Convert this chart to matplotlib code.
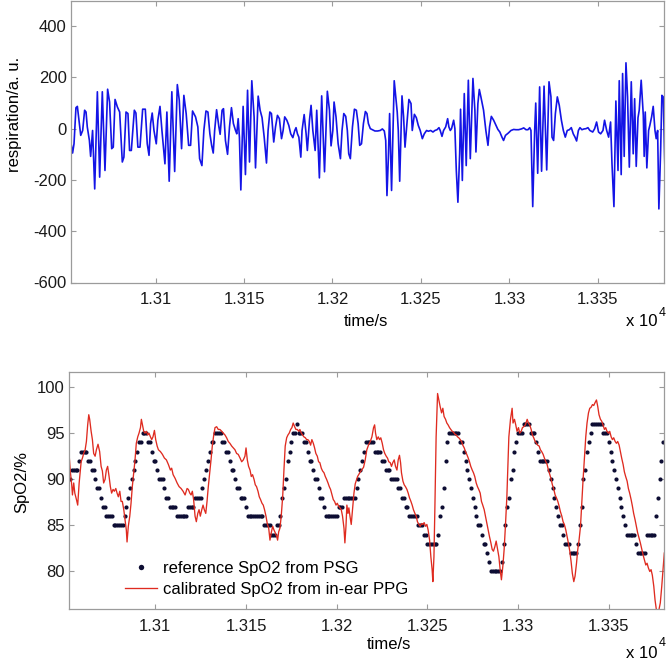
import matplotlib

matplotlib.use("Agg")
import matplotlib.pyplot as plt
import numpy as np
from matplotlib.ticker import FuncFormatter

plt.rcParams["font.family"] = ["Liberation Sans", "DejaVu Sans"]
plt.rcParams["font.size"] = 12
plt.rcParams["axes.unicode_minus"] = False

# respiration signal (time/s, a.u.)
resp_points = [
    (13052.4, -65), (13053.1, -95), (13053.9, -59), (13055.0, 82), (13055.8, 87), (13056.7, 33),
    (13057.7, -26), (13058.8, -7), (13059.9, 72), (13060.7, 65), (13061.4, 7), (13062.6, -46),
    (13063.3, -108), (13064.4, -7), (13065.6, -235), (13067.1, 144), (13068.4, -189), (13069.9, 144),
    (13071.4, -163), (13072.9, 154), (13074.0, 104), (13075.2, -78), (13076.1, -72), (13077.1, 114),
    (13078.4, 85), (13079.7, 65), (13081.2, -130), (13082.1, -111), (13083.3, 65), (13084.4, 59),
    (13085.3, -85), (13086.3, -85), (13088.0, 72), (13088.9, 61), (13090.0, -72), (13091.2, -72),
    (13092.7, 76), (13094.2, 76), (13095.3, -59), (13096.3, -104), (13097.2, 20), (13098.1, 61),
    (13099.1, -7), (13100.4, -59), (13101.3, 33), (13102.5, 87), (13103.6, -7), (13105.3, -137),
    (13106.4, 65), (13107.7, -205), (13109.2, 144), (13110.8, -167), (13112.3, 172), (13113.4, 111),
    (13114.7, -78), (13116.0, 130), (13117.3, 59), (13118.7, -65), (13119.8, -65), (13120.9, 69),
    (13122.6, 46), (13123.9, 7), (13124.9, -117), (13126.2, -144), (13127.3, -7), (13128.5, 69),
    (13129.6, 65), (13130.7, -20), (13131.7, -65), (13132.6, -95), (13133.4, -7), (13134.5, 74),
    (13135.8, 7), (13136.5, -22), (13137.6, 72), (13138.4, 78), (13139.5, -46), (13140.7, -100),
    (13141.8, 7), (13142.9, 82), (13144.0, 20), (13145.2, -7), (13145.9, -20), (13146.7, 39),
    (13147.4, -33), (13148.2, -239), (13149.5, 87), (13150.8, -179), (13152.0, 150), (13153.1, -130),
    (13154.4, 187), (13155.7, 46), (13156.5, -153), (13158.0, 127), (13159.1, 72), (13160.2, 43),
    (13161.4, -33), (13162.7, -134), (13163.6, -7), (13164.6, 65), (13165.5, 59), (13166.8, -52),
    (13167.8, 7), (13168.9, 52), (13170.0, 39), (13171.2, -39), (13172.1, -7), (13173.0, 46),
    (13174.2, 33), (13175.3, 13), (13176.4, -20), (13177.6, -35), (13178.7, -7), (13179.4, 4),
    (13180.2, -20), (13181.0, -33), (13182.1, -111), (13182.8, -7), (13184.0, 55), (13185.1, -20),
    (13185.8, -85), (13187.0, 33), (13187.9, 91), (13188.9, -7), (13190.2, -85), (13191.1, 72),
    (13192.6, -192), (13193.9, 128), (13195.5, -168), (13197.1, 146), (13198.3, 72), (13199.2, -67),
    (13200.2, -7), (13200.9, 104), (13202.0, 46), (13203.2, -59), (13204.5, -117), (13205.4, -7),
    (13206.4, 59), (13207.5, 48), (13208.4, -7), (13209.2, -98), (13210.1, -117), (13211.3, 7),
    (13212.4, 76), (13213.5, 72), (13214.5, 20), (13215.4, -65), (13216.4, -59), (13217.5, 20),
    (13218.6, 67), (13219.5, 59), (13220.3, 20), (13221.4, 0), (13222.5, -4), (13224.0, -9),
    (13225.5, -9), (13227.0, -7), (13228.2, -1), (13229.3, -9), (13230.1, -46), (13230.8, -261),
    (13231.6, -111), (13232.3, 59), (13233.4, -241), (13234.9, 187), (13236.1, 98), (13236.6, 65),
    (13237.2, -7), (13238.0, -205), (13239.3, 128), (13240.2, 46), (13241.0, -72), (13242.1, 20),
    (13243.2, 114), (13244.4, 98), (13245.1, -7), (13246.3, 56), (13247.4, 43), (13248.5, 13),
    (13249.6, -7), (13250.8, -39), (13251.9, -20), (13253.2, -7), (13254.2, -10), (13255.5, -7),
    (13256.8, -13), (13257.9, -7), (13259.1, -4), (13260.2, 4), (13260.9, -7), (13261.9, -30),
    (13262.8, -7), (13264.0, 7), (13265.1, 39), (13265.8, 7), (13266.6, -7), (13267.3, 0),
    (13268.5, 33), (13269.2, 0), (13270.0, -163), (13270.9, -287), (13271.9, -98), (13272.4, 76),
    (13273.4, -202), (13274.5, 137), (13275.6, -144), (13276.8, 189), (13277.9, -117), (13279.4, 196),
    (13280.5, 72), (13281.1, -91), (13282.2, 98), (13283.0, 153), (13283.9, 124), (13285.4, 72),
    (13286.7, -7), (13287.9, -65), (13288.8, 7), (13289.8, 48), (13291.1, 33), (13292.4, 13),
    (13293.5, -3), (13294.6, -13), (13295.8, -33), (13296.7, -46), (13297.8, -26), (13299.4, -17),
    (13300.9, -7), (13302.4, -3), (13303.7, -4), (13305.2, -4), (13306.8, -1), (13308.1, 3),
    (13309.4, -4), (13310.5, -4), (13311.5, 4), (13312.2, -7), (13313.2, -304), (13314.3, -7),
    (13314.9, 100), (13316.0, -174), (13317.1, 163), (13318.2, -166), (13319.6, 166), (13321.1, -161),
    (13322.4, 183), (13323.5, 124), (13324.1, -33), (13325.0, -46), (13326.0, 59), (13327.1, 124),
    (13328.2, 91), (13329.4, 33), (13330.5, -7), (13331.6, -33), (13332.7, -7), (13333.9, -4),
    (13335.0, 4), (13336.1, -20), (13337.1, -33), (13338.0, -48), (13339.0, -7), (13339.9, 4),
    (13341.0, -4), (13342.2, -1), (13343.3, 0), (13344.4, 4), (13345.5, -7), (13347.1, -13),
    (13348.2, 0), (13349.3, 26), (13350.4, -13), (13351.6, -20), (13352.9, -7), (13353.8, 33),
    (13355.0, -7), (13356.1, -33), (13357.2, 26), (13358.0, -137), (13359.1, -304), (13360.2, 108),
    (13361.4, -163), (13362.1, 187), (13363.2, -179), (13364.0, 215), (13364.9, -108), (13365.9, 257),
    (13366.8, 124), (13367.8, -150), (13368.9, 183), (13370.0, -98), (13370.8, 117), (13371.7, -147),
    (13372.7, 43), (13373.4, 72), (13374.5, 189), (13375.7, 52), (13376.2, -108), (13376.8, 65),
    (13377.7, -153), (13378.7, -7), (13379.4, 13), (13380.4, 46), (13381.3, 87), (13382.3, -7),
    (13383.0, -39), (13383.8, -7), (13384.5, -313), (13385.5, -85), (13386.2, 130), (13387.0, 124),
    (13387.7, -98), (13388.1, -202),
]

# calibrated SpO2 from in-ear PPG (time/s, %)
ppg_points = [
    (13052.4, 92.8), (13053.2, 90.7), (13053.9, 89.4), (13054.3, 88.3), (13055.0, 89.6), (13055.6, 88.5),
    (13056.5, 87.8), (13057.2, 87.2), (13058.0, 89.6), (13059.1, 91.9), (13059.8, 92.3), (13060.5, 92.8),
    (13061.3, 93.2), (13062.0, 94.1), (13062.7, 95.9), (13063.3, 97.0), (13063.8, 96.5), (13064.6, 95.2),
    (13065.3, 94.3), (13066.0, 92.8), (13066.8, 92.5), (13067.5, 93.2), (13068.4, 93.8), (13069.3, 93.0),
    (13070.1, 91.4), (13070.8, 90.9), (13071.5, 89.6), (13072.3, 90.0), (13073.0, 91.0), (13073.7, 91.4),
    (13074.5, 90.3), (13075.2, 89.2), (13075.9, 88.5), (13076.7, 88.9), (13077.4, 88.7), (13078.2, 89.0),
    (13078.9, 88.5), (13079.6, 88.1), (13080.4, 88.7), (13081.1, 87.6), (13081.8, 87.6), (13082.6, 86.7),
    (13083.3, 85.6), (13084.0, 84.5), (13084.4, 83.2), (13085.1, 84.9), (13085.9, 86.0), (13086.6, 87.4),
    (13087.3, 89.2), (13088.1, 90.7), (13088.8, 92.1), (13089.5, 93.9), (13090.3, 94.6), (13091.0, 95.0),
    (13091.8, 95.6), (13092.3, 96.5), (13092.9, 95.9), (13093.6, 95.2), (13094.3, 95.0), (13095.1, 95.2),
    (13095.8, 94.8), (13096.5, 95.0), (13097.3, 94.6), (13098.0, 94.3), (13098.7, 94.6), (13099.5, 95.3),
    (13100.2, 94.3), (13101.0, 93.6), (13101.7, 93.2), (13102.8, 93.0), (13103.9, 92.7), (13105.0, 92.3),
    (13106.1, 92.1), (13107.2, 91.6), (13108.3, 91.0), (13109.0, 91.2), (13109.8, 90.5), (13110.9, 90.1),
    (13112.0, 89.6), (13113.1, 89.2), (13114.2, 89.0), (13115.3, 88.7), (13116.4, 88.3), (13117.5, 89.0),
    (13118.2, 88.9), (13119.0, 88.5), (13119.7, 88.3), (13120.4, 88.7), (13121.1, 87.8), (13121.9, 86.0),
    (13122.6, 85.4), (13123.4, 86.3), (13124.1, 86.7), (13124.8, 86.0), (13125.6, 86.7), (13126.3, 87.2),
    (13127.0, 86.7), (13127.8, 86.3), (13128.5, 87.6), (13129.2, 89.2), (13130.0, 90.7), (13130.7, 92.1),
    (13131.4, 93.6), (13132.2, 94.8), (13132.9, 95.6), (13133.8, 95.7), (13134.7, 95.4), (13135.6, 95.4),
    (13136.6, 95.2), (13137.5, 95.0), (13138.4, 94.8), (13139.3, 94.5), (13140.2, 94.1), (13141.1, 93.9),
    (13142.1, 93.6), (13143.0, 93.4), (13143.9, 93.2), (13144.8, 92.8), (13145.7, 92.7), (13146.7, 92.3),
    (13147.6, 91.9), (13148.5, 92.1), (13149.4, 92.5), (13150.0, 93.4), (13150.7, 92.1), (13151.4, 91.4),
    (13152.2, 91.0), (13152.9, 90.3), (13153.6, 90.5), (13154.4, 90.0), (13155.1, 89.4), (13155.8, 89.2),
    (13156.6, 88.7), (13157.3, 88.1), (13158.0, 87.8), (13158.8, 87.4), (13159.5, 87.2), (13160.2, 86.7),
    (13161.0, 86.0), (13161.7, 85.2), (13162.5, 84.7), (13163.2, 83.4), (13163.9, 84.2), (13164.7, 84.9),
    (13165.4, 84.5), (13166.1, 84.2), (13166.9, 83.8), (13167.4, 83.4), (13168.0, 84.3), (13168.7, 84.7),
    (13169.4, 86.0), (13170.2, 88.1), (13170.9, 91.0), (13171.6, 93.6), (13172.4, 94.5), (13173.1, 94.8),
    (13173.8, 95.0), (13174.6, 95.4), (13175.3, 95.6), (13176.0, 96.1), (13176.8, 95.7), (13177.5, 95.4),
    (13178.3, 95.4), (13179.0, 95.2), (13179.7, 95.4), (13180.5, 95.0), (13181.2, 94.8), (13181.9, 94.6),
    (13182.7, 94.5), (13183.4, 94.3), (13184.1, 94.3), (13184.9, 94.1), (13185.6, 93.7), (13186.3, 94.3),
    (13187.1, 93.9), (13187.8, 93.4), (13188.5, 92.8), (13189.3, 92.5), (13190.0, 91.9), (13190.7, 91.8),
    (13191.5, 91.2), (13192.2, 90.9), (13193.0, 90.7), (13193.7, 90.3), (13194.4, 90.0), (13195.2, 89.6),
    (13195.9, 89.2), (13196.6, 88.9), (13197.4, 88.3), (13198.1, 87.8), (13198.8, 87.6), (13199.6, 87.2),
    (13200.3, 87.4), (13201.0, 87.1), (13201.8, 86.9), (13202.5, 86.7), (13203.2, 86.0), (13204.0, 84.7),
    (13204.5, 83.1), (13205.1, 84.9), (13205.6, 87.2), (13206.2, 86.3), (13206.7, 86.9), (13207.3, 86.0),
    (13208.0, 85.1), (13208.7, 86.7), (13209.5, 88.5), (13210.2, 89.5), (13211.5, 90.3), (13213.0, 90.8),
    (13214.8, 91.3), (13215.7, 92.1), (13216.6, 93.2), (13217.5, 93.7), (13218.5, 94.1), (13219.4, 94.6),
    (13220.3, 95.6), (13220.9, 95.9), (13221.4, 95.0), (13222.1, 94.3), (13222.9, 94.6), (13223.6, 94.3),
    (13224.3, 94.5), (13225.1, 93.9), (13225.8, 93.2), (13226.5, 92.8), (13227.3, 92.5), (13228.0, 92.3),
    (13228.7, 91.9), (13229.5, 91.8), (13230.2, 91.4), (13230.9, 91.8), (13231.7, 92.1), (13232.4, 91.4),
    (13233.2, 91.0), (13233.9, 92.1), (13234.6, 92.6), (13235.2, 91.8), (13235.7, 90.7), (13236.5, 89.8),
    (13237.2, 89.4), (13237.9, 89.2), (13238.7, 88.9), (13239.4, 88.5), (13240.1, 88.0), (13240.9, 87.6),
    (13241.6, 87.2), (13242.3, 86.7), (13243.1, 86.3), (13243.8, 86.0), (13244.5, 85.4), (13245.3, 85.1),
    (13246.0, 84.9), (13246.8, 85.2), (13247.5, 85.1), (13248.2, 85.3), (13249.0, 84.9), (13249.7, 85.1),
    (13250.4, 84.5), (13251.2, 83.4), (13251.9, 81.6), (13252.6, 80.2), (13253.0, 78.9), (13253.6, 81.6),
    (13254.1, 86.7), (13254.8, 94.6), (13255.6, 99.3), (13256.3, 98.6), (13257.0, 97.9), (13257.8, 97.2),
    (13258.5, 97.7), (13259.2, 96.8), (13260.0, 96.5), (13260.7, 96.1), (13261.4, 95.9), (13262.2, 95.6),
    (13262.9, 95.4), (13263.7, 95.2), (13264.4, 95.1), (13265.1, 94.9), (13265.9, 94.8), (13266.6, 94.6),
    (13267.3, 94.5), (13268.1, 94.3), (13268.8, 94.1), (13269.5, 93.7), (13270.3, 93.4), (13271.0, 93.0),
    (13271.7, 92.7), (13272.5, 92.3), (13273.2, 91.9), (13273.9, 91.4), (13274.7, 91.0), (13275.4, 90.7),
    (13276.1, 90.3), (13276.9, 89.6), (13277.6, 89.2), (13278.3, 88.9), (13279.1, 88.5), (13279.8, 87.6),
    (13280.5, 87.2), (13281.3, 86.7), (13282.0, 86.0), (13282.8, 85.2), (13283.5, 84.5), (13284.2, 83.8),
    (13285.0, 83.1), (13285.7, 82.4), (13286.4, 82.2), (13287.2, 82.7), (13287.9, 83.3), (13288.6, 82.5),
    (13289.4, 81.6), (13290.1, 80.2), (13290.8, 79.1), (13291.6, 80.6), (13292.3, 82.4), (13293.0, 84.9),
    (13293.8, 88.1), (13294.9, 94.6), (13295.8, 96.5), (13296.7, 97.7), (13297.2, 96.1), (13298.0, 96.5),
    (13298.7, 95.9), (13299.4, 95.2), (13300.2, 95.6), (13300.9, 95.0), (13301.7, 95.2), (13302.4, 95.6),
    (13303.1, 95.7), (13304.0, 95.9), (13305.0, 96.5), (13305.7, 96.1), (13306.4, 95.9), (13307.2, 95.4),
    (13307.9, 94.8), (13308.6, 94.5), (13309.4, 94.1), (13310.1, 93.9), (13310.8, 93.7), (13311.6, 93.6),
    (13312.3, 93.2), (13313.0, 93.0), (13313.8, 92.7), (13314.5, 92.3), (13315.3, 91.9), (13316.0, 91.6),
    (13316.7, 91.0), (13317.5, 90.5), (13318.2, 90.0), (13318.9, 89.4), (13319.7, 88.9), (13320.4, 88.3),
    (13321.1, 88.0), (13321.9, 87.6), (13322.6, 87.1), (13323.3, 86.5), (13324.1, 86.0), (13324.8, 85.4),
    (13325.5, 85.1), (13326.3, 84.5), (13327.0, 83.8), (13327.7, 83.1), (13328.5, 82.2), (13329.2, 81.1),
    (13329.9, 79.8), (13330.7, 78.9), (13331.4, 79.5), (13332.2, 80.9), (13332.9, 82.4), (13333.6, 83.4),
    (13334.4, 84.9), (13335.1, 87.4), (13335.8, 89.9), (13336.6, 92.5), (13337.3, 94.6), (13338.0, 96.1),
    (13338.8, 97.2), (13339.5, 97.7), (13340.2, 97.8), (13341.0, 98.1), (13341.7, 98.0), (13342.4, 98.3),
    (13343.2, 98.6), (13343.9, 97.9), (13344.6, 97.0), (13345.4, 96.5), (13346.1, 96.3), (13346.8, 95.9),
    (13347.6, 95.4), (13348.3, 95.6), (13349.0, 95.2), (13349.8, 95.0), (13350.5, 95.2), (13351.3, 94.6),
    (13352.0, 94.3), (13352.7, 94.5), (13353.5, 94.1), (13354.2, 93.9), (13354.9, 94.1), (13355.7, 93.7),
    (13356.4, 93.0), (13357.1, 92.3), (13357.9, 91.6), (13358.6, 90.8), (13359.3, 90.3), (13360.1, 89.8),
    (13360.8, 89.0), (13361.5, 88.5), (13362.3, 87.8), (13363.0, 87.1), (13363.7, 86.3), (13364.5, 85.6),
    (13365.2, 84.9), (13365.9, 84.2), (13366.7, 83.6), (13367.4, 83.1), (13368.2, 82.4), (13368.9, 81.8),
    (13369.6, 81.3), (13370.4, 80.7), (13371.1, 80.9), (13371.8, 80.4), (13372.6, 80.0), (13373.3, 80.2),
    (13374.0, 79.6), (13374.8, 78.4), (13375.5, 76.9), (13376.2, 75.9), (13377.0, 75.1), (13377.7, 75.9),
    (13378.4, 76.6), (13379.2, 78.4), (13379.9, 80.2), (13380.6, 82.0),
]

# reference SpO2 from PSG: (second at which the reading changes, new level in %), sampled at 1 s
psg_steps = [
    (13053, 90), (13054, 91), (13058, 92), (13059, 93), (13063, 92), (13065, 91), (13067, 90),
    (13068, 89), (13070, 88), (13071, 87), (13073, 86), (13077, 85), (13083, 86), (13084, 87),
    (13085, 88), (13086, 89), (13087, 90), (13088, 91), (13089, 92), (13090, 93), (13091, 94),
    (13093, 95), (13096, 94), (13098, 93), (13099, 92), (13101, 91), (13102, 90), (13105, 89),
    (13106, 88), (13108, 87), (13112, 86), (13118, 87), (13122, 88), (13126, 89), (13127, 90),
    (13128, 91), (13129, 92), (13130, 93), (13131, 94), (13133, 95), (13137, 94), (13139, 93),
    (13141, 92), (13142, 91), (13144, 90), (13145, 89), (13147, 88), (13150, 87), (13151, 86),
    (13160, 85), (13164, 84), (13167, 85), (13169, 86), (13170, 88), (13171, 89), (13172, 90),
    (13173, 92), (13174, 93), (13175, 94), (13176, 95), (13178, 96), (13179, 95), (13182, 94),
    (13184, 93), (13185, 92), (13187, 91), (13188, 90), (13190, 89), (13191, 88), (13193, 87),
    (13194, 86), (13201, 87), (13204, 88), (13211, 89), (13212, 90), (13213, 91), (13214, 92),
    (13215, 93), (13216, 94), (13221, 93), (13225, 92), (13227, 91), (13230, 90), (13234, 89),
    (13236, 88), (13238, 87), (13240, 86), (13245, 85), (13248, 84), (13250, 83), (13256, 84),
    (13257, 86), (13258, 87), (13259, 89), (13260, 92), (13261, 94), (13262, 95), (13268, 94),
    (13270, 93), (13271, 92), (13272, 91), (13273, 90), (13274, 89), (13275, 88), (13276, 87),
    (13277, 86), (13278, 85), (13280, 84), (13281, 83), (13283, 82), (13284, 81), (13285, 80),
    (13291, 81), (13292, 83), (13293, 85), (13294, 87), (13295, 88), (13296, 90), (13297, 91),
    (13298, 93), (13299, 94), (13300, 95), (13303, 96), (13307, 95), (13310, 94), (13311, 93),
    (13312, 92), (13317, 91), (13318, 90), (13319, 89), (13320, 88), (13321, 87), (13322, 86),
    (13323, 85), (13325, 84), (13326, 83), (13329, 82), (13333, 83), (13334, 85), (13335, 87),
    (13336, 90), (13337, 91), (13338, 93), (13339, 94), (13340, 95), (13341, 96), (13347, 95),
    (13350, 94), (13351, 93), (13352, 92), (13353, 91), (13354, 90), (13355, 89), (13356, 88),
    (13357, 87), (13358, 86), (13359, 85), (13360, 84), (13365, 83), (13366, 82), (13371, 84),
    (13376, 86), (13377, 88), (13378, 90), (13379, 92), (13380, 94),
]

time_ticks = [13100, 13150, 13200, 13250, 13300, 13350]
resp_ticks = [-600, -400, -200, 0, 200, 400]
spo2_ticks = [80, 85, 90, 95, 100]

W, H = 666, 659
AXIS_GREY = "#9b9b9b"


def style_axes(ax):
    for side in ax.spines.values():
        side.set_color(AXIS_GREY)
        side.set_linewidth(0.9)
    ax.tick_params(direction="in", top=True, right=True, length=3.6, width=0.8,
                   color=AXIS_GREY, labelsize=12, labelcolor="#1a1a1a")
    ax.tick_params(axis="x", pad=7)
    ax.tick_params(axis="y", pad=3)
    ax.set_xticks(time_ticks)
    ax.xaxis.set_major_formatter(FuncFormatter(lambda x, pos: f"{x / 1e4:g}"))


def px_axes(left, top, right, bottom):
    return [left / W, 1 - bottom / H, (right - left) / W, (bottom - top) / H]


fig = plt.figure(figsize=(W / 100, H / 100), dpi=100)

# --- respiration ---
ax1 = fig.add_axes(px_axes(71, 0.5, 664, 282.5))
rt, rv = np.array(resp_points).T
ax1.plot(rt, rv, color="#1414e6", linewidth=1.2)
ax1.set_xlim(13052.2, 13387.4)
ax1.set_ylim(-600, 500)
ax1.set_yticks(resp_ticks)
style_axes(ax1)
ax1.set_ylabel("respiration/a. u.", va="center", fontsize=12)
ax1.yaxis.set_label_coords(-0.0953, 0.5975)
ax1.set_xlabel("time/s", va="center", fontsize=12)
ax1.xaxis.set_label_coords(0.4975, -0.140)
fig.text(658 / W, 1 - 322 / H, "x 10", ha="right", va="center", fontsize=12)
fig.text(659 / W, 1 - 313 / H, "4", ha="left", va="center", fontsize=9)

# --- SpO2 ---
ax2 = fig.add_axes(px_axes(69, 372.3, 664.3, 609.3))
step_t, step_v = np.array(psg_steps).T
psg_t = np.arange(13053, 13381)
psg_v = step_v[np.searchsorted(step_t, psg_t, side="right") - 1]
pt, pv = np.array(ppg_points).T
ax2.plot(psg_t, psg_v, linestyle="none", marker="o", markersize=3.0, markeredgewidth=0,
         color="#0d0d33", label="reference SpO2 from PSG")
ax2.plot(pt, pv, color="#df2b20", linewidth=0.95, label="calibrated SpO2 from in-ear PPG")
ax2.set_xlim(13052.4, 13380.6)
ax2.set_ylim(75.9, 101.6)
ax2.set_yticks(spo2_ticks)
style_axes(ax2)
ax2.set_ylabel("SpO2/%", va="center", fontsize=12)
ax2.yaxis.set_label_coords(-0.0798, 0.539)
ax2.set_xlabel("time/s", va="center", fontsize=12)
ax2.xaxis.set_label_coords(0.5375, -0.1506)
fig.text(658 / W, 1 - 653 / H, "x 10", ha="right", va="center", fontsize=12)
fig.text(659 / W, 1 - 643 / H, "4", ha="left", va="center", fontsize=9)

leg = ax2.legend(loc="upper left", bbox_to_anchor=((125 - 69) / 595.3, 1 - (561 - 372.3) / 237),
                 frameon=False, fontsize=12, numpoints=1, handlelength=1.9, handletextpad=0.4,
                 labelspacing=0.35, borderpad=0, borderaxespad=0, markerscale=1.3)

fig.savefig("out.png", dpi=100)
plt.close(fig)
